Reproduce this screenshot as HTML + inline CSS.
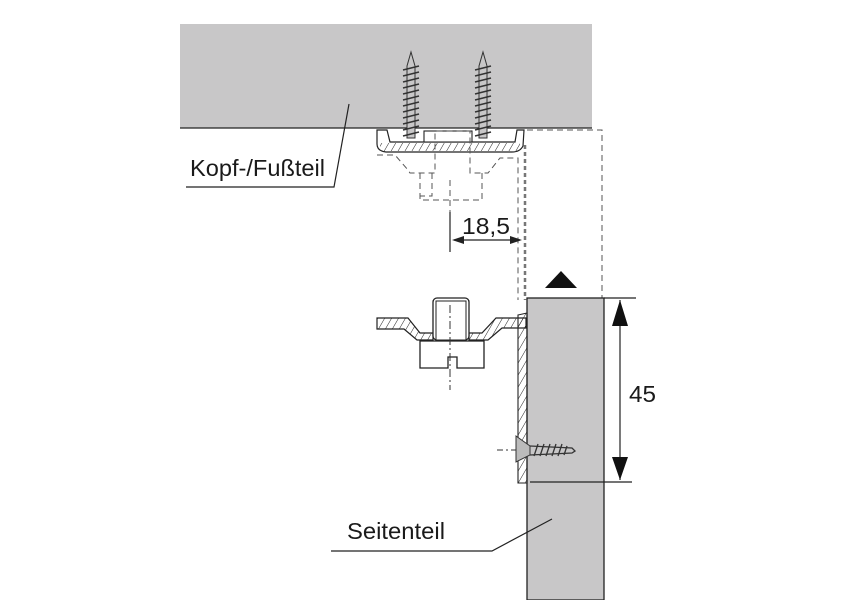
<!DOCTYPE html>
<html><head><meta charset="utf-8"><style>
html,body{margin:0;padding:0;background:#fff;}
svg{display:block}
text{font-family:"Liberation Sans",sans-serif;fill:#1a1a1a}
</style></head><body>
<svg width="860" height="600" viewBox="0 0 860 600" xmlns="http://www.w3.org/2000/svg">
<defs>
<pattern id="hatch" width="6" height="6" patternUnits="userSpaceOnUse" patternTransform="rotate(30)">
<line x1="0" y1="0" x2="0" y2="6" stroke="#222" stroke-width="1"/>
</pattern>
</defs>
<rect x="180" y="24" width="412" height="104" fill="#c8c7c8"/>
<line x1="180" y1="128" x2="592" y2="128" stroke="#222" stroke-width="1.3"/>
<g fill="#c8c7c8" stroke="#333" stroke-width="1">
<path d="M411 52 L415 66 L415 138 L407 138 L407 66 Z"/>
<path d="M483 52 L487 66 L487 138 L479 138 L479 66 Z"/>
</g>
<g stroke="#333" stroke-width="1.5">
<g id="s1">
<line x1="403" y1="70" x2="419" y2="66"/><line x1="403" y1="76" x2="419" y2="72"/><line x1="403" y1="82" x2="419" y2="78"/><line x1="403" y1="88" x2="419" y2="84"/><line x1="403" y1="94" x2="419" y2="90"/><line x1="403" y1="100" x2="419" y2="96"/><line x1="403" y1="106" x2="419" y2="102"/><line x1="403" y1="112" x2="419" y2="108"/><line x1="403" y1="118" x2="419" y2="114"/><line x1="403" y1="124" x2="419" y2="120"/><line x1="403" y1="130" x2="419" y2="126"/><line x1="403" y1="136" x2="419" y2="132"/>
</g>
<use href="#s1" x="72"/>
</g>
<path d="M377 130 L387 130 L390 142 L515 142 L517 130 L524 130 L523 146 Q520 152 512 152 L386 152 Q377 151 377 144 Z" fill="#fff" stroke="#222" stroke-width="1.2"/>
<rect x="380" y="143" width="140" height="8" fill="url(#hatch)"/>
<rect x="424" y="131" width="48" height="11" fill="#fff" stroke="#222" stroke-width="1.1"/>
<g fill="none" stroke="#555" stroke-width="1" stroke-dasharray="6,4">
<path d="M377 155 L395 155 L408 170 L410 173 L435 173 L435 131 L470 131 L470 173 L488 173 L500 158 L518 158 L518 300"/>
<path d="M432 173 L432 196 L420 196 L420 200 M420 173 L420 200 L482 200 L482 173"/>
<line x1="450" y1="180" x2="450" y2="215"/>
<path d="M527 130 L602 130 L602 298"/>
</g>
<line x1="525" y1="145" x2="525" y2="300" stroke="#777" stroke-width="2.5" stroke-dasharray="4,3"/>
<line x1="450" y1="212" x2="450" y2="252" stroke="#222" stroke-width="1.2"/>
<line x1="454" y1="240" x2="520" y2="240" stroke="#222" stroke-width="1.2"/>
<path d="M452 240 L464 236 L464 244 Z M522 240 L510 236 L510 244 Z" fill="#222"/>
<text x="462" y="234" font-size="23" textLength="48" lengthAdjust="spacingAndGlyphs">18,5</text>
<path d="M545 288 L561 271 L577 288 Z" fill="#111"/>
<rect x="527" y="298" width="77" height="302" fill="#c8c7c8" stroke="#222" stroke-width="1.3"/>
<path d="M518 315 L527 313 L527 483 L518 483 Z" fill="url(#hatch)" stroke="#222" stroke-width="1.1"/>
<g fill="url(#hatch)" stroke="#222" stroke-width="1.2">
<path d="M377 318 L408 318 L420 333 L433 333 L433 340 L417 340 L404 329 L377 329 Z"/>
<path d="M469 333 L482 333 L496 318 L526 318 L526 328 L502 328 L488 340 L469 340 Z"/>
</g>
<rect x="433" y="298" width="36" height="42" rx="4" fill="#fff" stroke="#222" stroke-width="1.3"/>
<rect x="436" y="301" width="30" height="39" fill="#fff" stroke="#222" stroke-width="1"/>
<path d="M420 341 L484 341 L484 368 L457 368 L457 357 L448 357 L448 368 L420 368 Z" fill="#fff" stroke="#222" stroke-width="1.3"/>
<line x1="450" y1="305" x2="450" y2="390" stroke="#333" stroke-width="1" stroke-dasharray="8,3,2,3"/>
<line x1="497" y1="450" x2="520" y2="450" stroke="#333" stroke-width="1" stroke-dasharray="6,3,2,3"/>
<path d="M516 436 L530 446 L530 455 L516 462 Z" fill="#bbb" stroke="#333" stroke-width="1"/>
<g stroke="#333" stroke-width="1.3" fill="none">
<path d="M530 446 L572 448 L575 451 L572 453 L530 455"/>
<path d="M534 456 L538 444 M540 456 L544 444 M546 456 L550 444 M552 456 L556 444 M558 456 L562 444 M564 455 L567 446"/>
</g>
<line x1="604" y1="298" x2="636" y2="298" stroke="#222" stroke-width="1.2"/>
<line x1="530" y1="482" x2="632" y2="482" stroke="#222" stroke-width="1.2"/>
<line x1="620" y1="300" x2="620" y2="480" stroke="#222" stroke-width="1.2"/>
<path d="M620 300 L612 326 L628 326 Z M620 480 L612 457 L628 457 Z" fill="#111"/>
<text x="629" y="402" font-size="23" textLength="27" lengthAdjust="spacingAndGlyphs">45</text>
<text x="190" y="176" font-size="23" textLength="135" lengthAdjust="spacingAndGlyphs">Kopf-/Fußteil</text>
<polyline points="186,187 334,187 349,104" fill="none" stroke="#222" stroke-width="1.2"/>
<text x="347" y="539" font-size="23" textLength="98" lengthAdjust="spacingAndGlyphs">Seitenteil</text>
<polyline points="331,551 492,551 552,519" fill="none" stroke="#222" stroke-width="1.2"/>
</svg>
</body></html>
